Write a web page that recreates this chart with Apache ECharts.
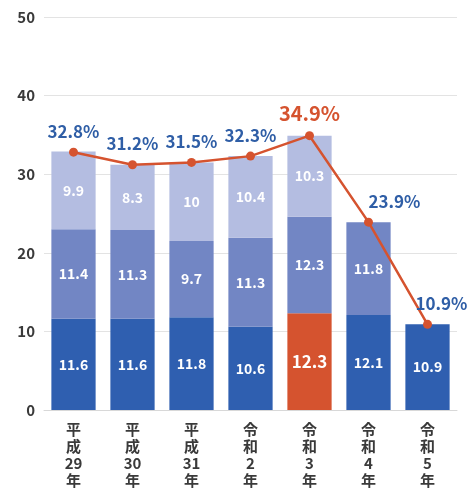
<!DOCTYPE html>
<html>
<head>
<meta charset="utf-8">
<script src="https://cdn.jsdelivr.net/npm/echarts@6/dist/echarts.min.js"></script>
<style>
  html, body { margin: 0; padding: 0; background: #fff; }
  #chart { width: 473px; height: 489px; }
</style>
</head>
<body>
<div id="chart"></div>
<script>
// data
const categories = ['平\n成\n29\n年', '平\n成\n30\n年', '平\n成\n31\n年', '令\n和\n2\n年', '令\n和\n3\n年', '令\n和\n4\n年', '令\n和\n5\n年'];
const bottomValues = [11.6, 11.6, 11.8, 10.6, 12.3, 12.1, 10.9];
const middleValues = [11.4, 11.3, 9.7, 11.3, 12.3, 11.8, null];
const topValues = [9.9, 8.3, 10, 10.4, 10.3, null, null];
const rateValues = [32.8, 31.2, 31.5, 32.3, 34.9, 23.9, 10.9];
const highlightIndex = 4;

const FONT = '"Noto Sans CJK JP", "Noto Sans", sans-serif';
const BLUE_DARK = '#2f5fb0';
const BLUE_MID = '#7286c4';
const BLUE_LIGHT = '#b4bde1';
const RED = '#d5532f';
const LABEL_BLUE = '#2f5ea6';

function initializeChart() {
    return echarts.init(document.getElementById('chart'));
}

function segmentLabel() {
    return {
        show: true,
        color: '#fff',
        fontFamily: FONT,
        fontWeight: 'bold',
        fontSize: 14
    };
}

function buildOption() {
    const bottomData = bottomValues.map((v, i) => i === highlightIndex
        ? { value: v, itemStyle: { color: RED }, label: { fontSize: 17 } }
        : v);

    // offsets for the point labels that sit to the right of the line
    const labelOffsets = { 5: [26, 0], 6: [14, 0] };

    const rateData = rateValues.map((v, i) => ({
        value: v,
        label: {
            color: i === highlightIndex ? RED : LABEL_BLUE,
            fontSize: i === highlightIndex ? 20 : 17,
            offset: labelOffsets[i] || [0, 0]
        }
    }));

    return {
        animation: false,
        grid: { left: 44, right: 16, top: 17, bottom: 78 },
        xAxis: {
            type: 'category',
            data: categories,
            axisLine: { lineStyle: { color: '#d8d8d8' } },
            axisTick: { show: false },
            axisLabel: {
                interval: 0,
                margin: 11,
                color: '#3a3a3a',
                fontFamily: FONT,
                fontWeight: 'bold',
                fontSize: 15,
                lineHeight: 17
            }
        },
        yAxis: {
            type: 'value',
            min: 0,
            max: 50,
            interval: 10,
            axisLine: { show: false },
            axisTick: { show: false },
            splitLine: { lineStyle: { color: '#e3e3e3' } },
            axisLabel: {
                margin: 9,
                color: '#3a3a3a',
                fontFamily: FONT,
                fontWeight: 'bold',
                fontSize: 15
            }
        },
        series: [
            {
                type: 'bar',
                stack: 'total',
                barWidth: '75%',
                data: bottomData,
                itemStyle: { color: BLUE_DARK },
                label: segmentLabel()
            },
            {
                type: 'bar',
                stack: 'total',
                data: middleValues,
                itemStyle: { color: BLUE_MID },
                label: segmentLabel()
            },
            {
                type: 'bar',
                stack: 'total',
                data: topValues,
                itemStyle: { color: BLUE_LIGHT },
                label: segmentLabel()
            },
            {
                type: 'line',
                data: rateData,
                symbol: 'circle',
                symbolSize: 9,
                lineStyle: { color: RED, width: 2.5 },
                itemStyle: { color: RED },
                z: 5,
                label: {
                    show: true,
                    position: 'top',
                    distance: 8,
                    fontFamily: FONT,
                    fontWeight: 'bold',
                    formatter: p => p.value.toFixed(1) + '%'
                }
            }
        ]
    };
}

const chart = initializeChart();
chart.setOption(buildOption());
</script>
</body>
</html>
